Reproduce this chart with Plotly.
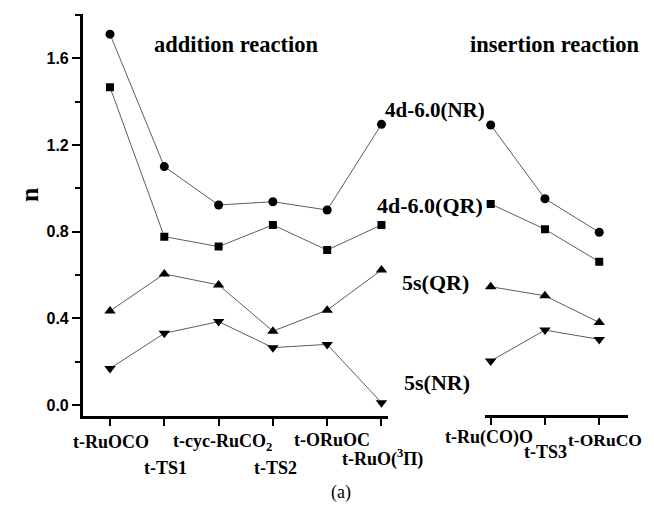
import plotly.graph_objects as go

# Categories
add_cats = ["t-RuOCO", "t-TS1", "t-cyc-RuCO<sub>2</sub>", "t-TS2", "t-ORuOC", "t-RuO(<sup>3</sup>Π)"]
ins_cats = ["t-Ru(CO)O", "t-TS3", "t-ORuCO"]

# Series values (n)
nr4d_add = [1.711, 1.100, 0.923, 0.938, 0.900, 1.295]
nr4d_ins = [1.292, 0.952, 0.797]
qr4d_add = [1.466, 0.777, 0.731, 0.831, 0.715, 0.831]
qr4d_ins = [0.928, 0.811, 0.661]
qr5s_add = [0.434, 0.605, 0.554, 0.341, 0.438, 0.623]
qr5s_ins = [0.546, 0.504, 0.381]
nr5s_add = [0.169, 0.331, 0.385, 0.265, 0.280, 0.011]
nr5s_ins = [0.203, 0.346, 0.303]

y_ticks = [0.0, 0.4, 0.8, 1.2, 1.6]

series = [
    (nr4d_add, nr4d_ins, "circle", 9, "4d-6.0(NR)"),
    (qr4d_add, qr4d_ins, "square", 8, "4d-6.0(QR)"),
    (qr5s_add, qr5s_ins, "triangle-up", 10, "5s(QR)"),
    (nr5s_add, nr5s_ins, "triangle-down", 10, "5s(NR)"),
]

# page has an 8px body margin; figure sized so no scrollbars appear
OFF = 8
W, H = 654 - OFF, 512 - 2 * OFF - 2


def fx(px):
    return (px - OFF) / W


def fy(py):
    return 1 - (py - OFF) / H


fig = go.Figure()
xa = list(range(len(add_cats)))
xi = list(range(len(ins_cats)))
for ya, yi, sym, sz, name in series:
    fig.add_trace(go.Scatter(x=xa, y=ya, mode="lines+markers", name=name,
                             line=dict(color="#333", width=0.8),
                             marker=dict(symbol=sym, size=sz, color="black"),
                             xaxis="x", yaxis="y", showlegend=False))
    fig.add_trace(go.Scatter(x=xi, y=yi, mode="lines+markers", name=name,
                             line=dict(color="#333", width=0.8),
                             marker=dict(symbol=sym, size=sz, color="black"),
                             xaxis="x2", yaxis="y", showlegend=False))

serif_b = "Liberation Serif"
sans_b = "Liberation Sans"

ydom = [fy(415.7), fy(14)]
axis_common = dict(showgrid=False, zeroline=False, showline=True, linecolor="black",
                   linewidth=2.5, ticks="outside", ticklen=8, tickwidth=2, tickcolor="black",
                   showticklabels=False)
fig.update_layout(
    width=W, height=H, autosize=False,
    margin=dict(l=0, r=0, t=0, b=0),
    paper_bgcolor="white", plot_bgcolor="white",
    xaxis=dict(domain=[fx(82.7), fx(388)], range=[-0.503, 5.12], tickvals=xa,
               anchor="y", **axis_common),
    xaxis2=dict(domain=[fx(485), fx(628)], range=[-0.105, 2.53], tickvals=xi,
                anchor="free", position=ydom[0], **axis_common),
    yaxis=dict(domain=ydom, range=[-0.049, 1.804], showgrid=False, zeroline=False,
               showline=True, linecolor="black", linewidth=2.5, ticks="outside",
               ticklen=8, tickwidth=2, tickcolor="black", tickvals=y_ticks,
               ticktext=[f"<b>{v:.1f}</b>" for v in y_ticks],
               tickfont=dict(family=sans_b, size=16, color="black"),
               minor=dict(dtick=0.2, tick0=0, ticks="outside", ticklen=5,
                          tickwidth=2, tickcolor="black"),
               anchor="x"),
    font=dict(family=serif_b, color="black"),
)

ann = []
# x tick labels (staggered): (row y in px, x shift in px, font size)
add_pos = [(442, 1, 18), (468, 1, 18), (442, 4, 18), (468, 3, 18), (440, 5, 18), (458, 1, 18)]
ins_pos = [(437, -2, 18), (452, 1, 18), (440, 6, 17.5)]
for i, (c, (py, dx, fs)) in enumerate(zip(add_cats, add_pos)):
    ann.append(dict(x=i, xref="x", y=fy(py), yref="paper", text=f"<b>{c}</b>",
                    showarrow=False, xanchor="center", yanchor="middle", xshift=dx,
                    font=dict(family=serif_b, size=fs, color="black")))
for i, (c, (py, dx, fs)) in enumerate(zip(ins_cats, ins_pos)):
    ann.append(dict(x=i, xref="x2", y=fy(py), yref="paper", text=f"<b>{c}</b>",
                    showarrow=False, xanchor="center", yanchor="middle", xshift=dx,
                    font=dict(family=serif_b, size=fs, color="black")))

text_labels = [
    ("addition reaction", 236, 45, 22.5),
    ("insertion reaction", 554, 45, 22.5),
    ("4d-6.0(NR)", 435, 110, 21),
    ("4d-6.0(QR)", 430, 205, 22),
    ("5s(QR)", 435, 282, 22),
    ("5s(NR)", 437, 382, 22),
]
for t, px, py, fs in text_labels:
    ann.append(dict(x=fx(px), y=fy(py), xref="paper", yref="paper", text=f"<b>{t}</b>",
                    showarrow=False, xanchor="center", yanchor="middle",
                    font=dict(family=serif_b, size=fs, color="black")))
ann.append(dict(x=fx(30), y=fy(195), xref="paper", yref="paper", text="<b>n</b>",
                showarrow=False, textangle=-90, xanchor="center", yanchor="middle",
                font=dict(family=serif_b, size=26, color="black")))
ann.append(dict(x=fx(341), y=fy(492), xref="paper", yref="paper", text="(a)",
                showarrow=False, xanchor="center", yanchor="middle",
                font=dict(family=serif_b, size=18, color="black")))
fig.update_layout(annotations=ann)

fig.write_html("out.html")
